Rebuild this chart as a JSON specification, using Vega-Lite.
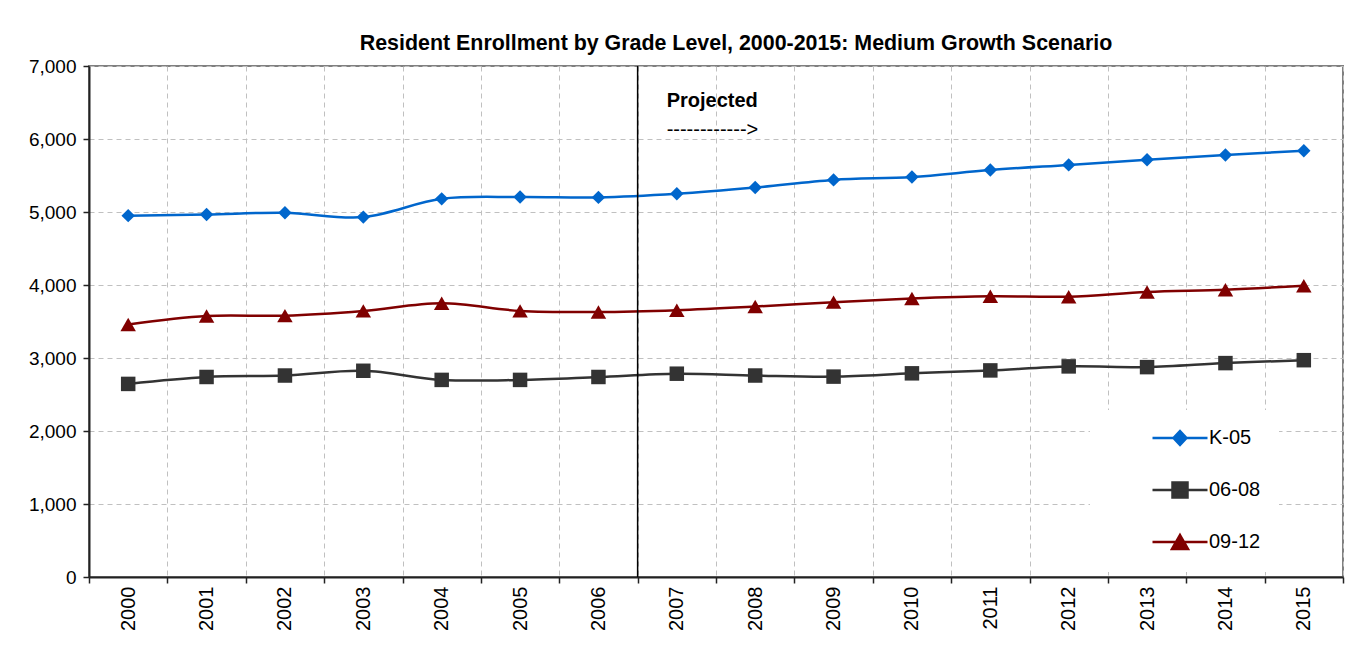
{
  "$schema": "https://vega.github.io/schema/vega-lite/v6.json",
  "width": 1254,
  "height": 511,
  "autosize": {"type": "none"},
  "padding": {"left": 89, "top": 66, "right": 22, "bottom": 71},
  "background": "white",
  "title": {
    "text": "Resident Enrollment by Grade Level, 2000-2015: Medium Growth Scenario",
    "font": "Liberation Sans",
    "fontSize": 21.4,
    "fontWeight": "bold",
    "color": "black",
    "anchor": "middle",
    "offset": 3,
    "dx": 20
  },
  "config": {
    "view": {"stroke": "#808080", "strokeWidth": 2},
    "axis": {
      "labelFont": "Liberation Sans",
      "labelColor": "black",
      "domainColor": "#222222",
      "domainWidth": 2,
      "tickColor": "#222222",
      "tickWidth": 1.5,
      "tickSize": 6,
      "gridColor": "#C0C0C0",
      "gridDash": [5, 4],
      "gridWidth": 1,
      "title": null
    }
  },
  "data": {
    "values": [
      {"year": "2000", "grade": "K-05", "enrollment": 4950},
      {"year": "2001", "grade": "K-05", "enrollment": 4965},
      {"year": "2002", "grade": "K-05", "enrollment": 4990},
      {"year": "2003", "grade": "K-05", "enrollment": 4930},
      {"year": "2004", "grade": "K-05", "enrollment": 5180},
      {"year": "2005", "grade": "K-05", "enrollment": 5205},
      {"year": "2006", "grade": "K-05", "enrollment": 5200},
      {"year": "2007", "grade": "K-05", "enrollment": 5250},
      {"year": "2008", "grade": "K-05", "enrollment": 5335},
      {"year": "2009", "grade": "K-05", "enrollment": 5440},
      {"year": "2010", "grade": "K-05", "enrollment": 5480},
      {"year": "2011", "grade": "K-05", "enrollment": 5575},
      {"year": "2012", "grade": "K-05", "enrollment": 5645},
      {"year": "2013", "grade": "K-05", "enrollment": 5715},
      {"year": "2014", "grade": "K-05", "enrollment": 5780},
      {"year": "2015", "grade": "K-05", "enrollment": 5840},
      {"year": "2000", "grade": "06-08", "enrollment": 2645},
      {"year": "2001", "grade": "06-08", "enrollment": 2740},
      {"year": "2002", "grade": "06-08", "enrollment": 2760},
      {"year": "2003", "grade": "06-08", "enrollment": 2825},
      {"year": "2004", "grade": "06-08", "enrollment": 2700},
      {"year": "2005", "grade": "06-08", "enrollment": 2700},
      {"year": "2006", "grade": "06-08", "enrollment": 2740},
      {"year": "2007", "grade": "06-08", "enrollment": 2785},
      {"year": "2008", "grade": "06-08", "enrollment": 2760},
      {"year": "2009", "grade": "06-08", "enrollment": 2745},
      {"year": "2010", "grade": "06-08", "enrollment": 2790},
      {"year": "2011", "grade": "06-08", "enrollment": 2830},
      {"year": "2012", "grade": "06-08", "enrollment": 2885},
      {"year": "2013", "grade": "06-08", "enrollment": 2875},
      {"year": "2014", "grade": "06-08", "enrollment": 2930},
      {"year": "2015", "grade": "06-08", "enrollment": 2970},
      {"year": "2000", "grade": "09-12", "enrollment": 3460},
      {"year": "2001", "grade": "09-12", "enrollment": 3575},
      {"year": "2002", "grade": "09-12", "enrollment": 3580},
      {"year": "2003", "grade": "09-12", "enrollment": 3645},
      {"year": "2004", "grade": "09-12", "enrollment": 3750},
      {"year": "2005", "grade": "09-12", "enrollment": 3645},
      {"year": "2006", "grade": "09-12", "enrollment": 3630},
      {"year": "2007", "grade": "09-12", "enrollment": 3655},
      {"year": "2008", "grade": "09-12", "enrollment": 3705},
      {"year": "2009", "grade": "09-12", "enrollment": 3765},
      {"year": "2010", "grade": "09-12", "enrollment": 3815},
      {"year": "2011", "grade": "09-12", "enrollment": 3845},
      {"year": "2012", "grade": "09-12", "enrollment": 3840},
      {"year": "2013", "grade": "09-12", "enrollment": 3905},
      {"year": "2014", "grade": "09-12", "enrollment": 3935},
      {"year": "2015", "grade": "09-12", "enrollment": 3990}
    ]
  },
  "layer": [
    {
      "mark": {"type": "line", "interpolate": "catmull-rom", "strokeWidth": 2.5},
      "encoding": {
        "x": {
          "field": "year",
          "type": "ordinal",
          "scale": {"type": "band", "paddingInner": 0, "paddingOuter": 0},
          "axis": {
            "tickBand": "extent",
            "grid": true,
            "labelAngle": 270,
            "labelFontSize": 20,
            "labelPadding": 3
          }
        },
        "y": {
          "field": "enrollment",
          "type": "quantitative",
          "scale": {"domain": [0, 7000], "nice": false},
          "axis": {
            "values": [0, 1000, 2000, 3000, 4000, 5000, 6000, 7000],
            "format": ",.0f",
            "grid": true,
            "labelFontSize": 19,
            "labelPadding": 7
          }
        },
        "color": {
          "field": "grade",
          "type": "nominal",
          "scale": {"domain": ["K-05", "06-08", "09-12"], "range": ["#0066CC", "#333333", "#800000"]},
          "legend": {
            "orient": "none",
            "legendX": 1001,
            "legendY": 344,
            "title": null,
            "fillColor": "white",
            "padding": 18,
            "labelFont": "Liberation Sans",
            "labelFontSize": 20,
            "labelColor": "black",
            "symbolOffset": 62,
            "labelOffset": 19,
            "rowPadding": 27,
            "symbolSize": 100,
            "symbolOpacity": 1,
            "encode": {
              "symbols": {
                "update": {
                  "shape": {"signal": "datum.value === 'K-05' ? 'M-5.5,0H5.5M0,-1.4L1.3,0L0,1.4L-1.3,0Z' : datum.value === '06-08' ? 'M-5.5,0H5.5M-1.5,-1.5H1.5V1.5H-1.5Z' : 'M-5.5,0H5.5M0,-1.4L1.6,1.4H-1.6Z'"},
                  "strokeWidth": {"value": 2.5},
                  "opacity": {"value": 1}
                }
              }
            }
          }
        }
      }
    },
    {
      "transform": [{"filter": "datum.grade === 'K-05'"}],
      "mark": {"type": "point", "shape": "diamond", "size": 180, "filled": true, "opacity": 1},
      "encoding": {
        "x": {"field": "year", "type": "ordinal"},
        "y": {"field": "enrollment", "type": "quantitative"},
        "color": {"field": "grade", "type": "nominal"}
      }
    },
    {
      "transform": [{"filter": "datum.grade === '06-08'"}],
      "mark": {"type": "point", "shape": "square", "size": 210, "filled": true, "opacity": 1},
      "encoding": {
        "x": {"field": "year", "type": "ordinal"},
        "y": {"field": "enrollment", "type": "quantitative"},
        "color": {"field": "grade", "type": "nominal"}
      }
    },
    {
      "transform": [{"filter": "datum.grade === '09-12'"}],
      "mark": {"type": "point", "shape": "triangle-up", "size": 240, "filled": true, "opacity": 1},
      "encoding": {
        "x": {"field": "year", "type": "ordinal"},
        "y": {"field": "enrollment", "type": "quantitative"},
        "color": {"field": "grade", "type": "nominal"}
      }
    },
    {
      "data": {"values": [{"label": "Projected"}]},
      "mark": {"type": "rule", "color": "black", "strokeWidth": 1.5},
      "encoding": {
        "x": {"datum": "2007", "type": "ordinal", "bandPosition": 0}
      }
    },
    {
      "data": {"values": [{"label": "Projected"}]},
      "mark": {"type": "text", "align": "left", "baseline": "middle", "font": "Liberation Sans", "fontSize": 20, "fontWeight": "bold", "color": "black", "dx": 29},
      "encoding": {
        "x": {"datum": "2007", "type": "ordinal", "bandPosition": 0},
        "y": {"datum": 6520, "type": "quantitative"},
        "text": {"field": "label"}
      }
    },
    {
      "data": {"values": [{"label": "------------>"}]},
      "mark": {"type": "text", "align": "left", "baseline": "middle", "font": "Liberation Sans", "fontSize": 20, "color": "black", "dx": 29},
      "encoding": {
        "x": {"datum": "2007", "type": "ordinal", "bandPosition": 0},
        "y": {"datum": 6120, "type": "quantitative"},
        "text": {"field": "label"}
      }
    }
  ]
}
